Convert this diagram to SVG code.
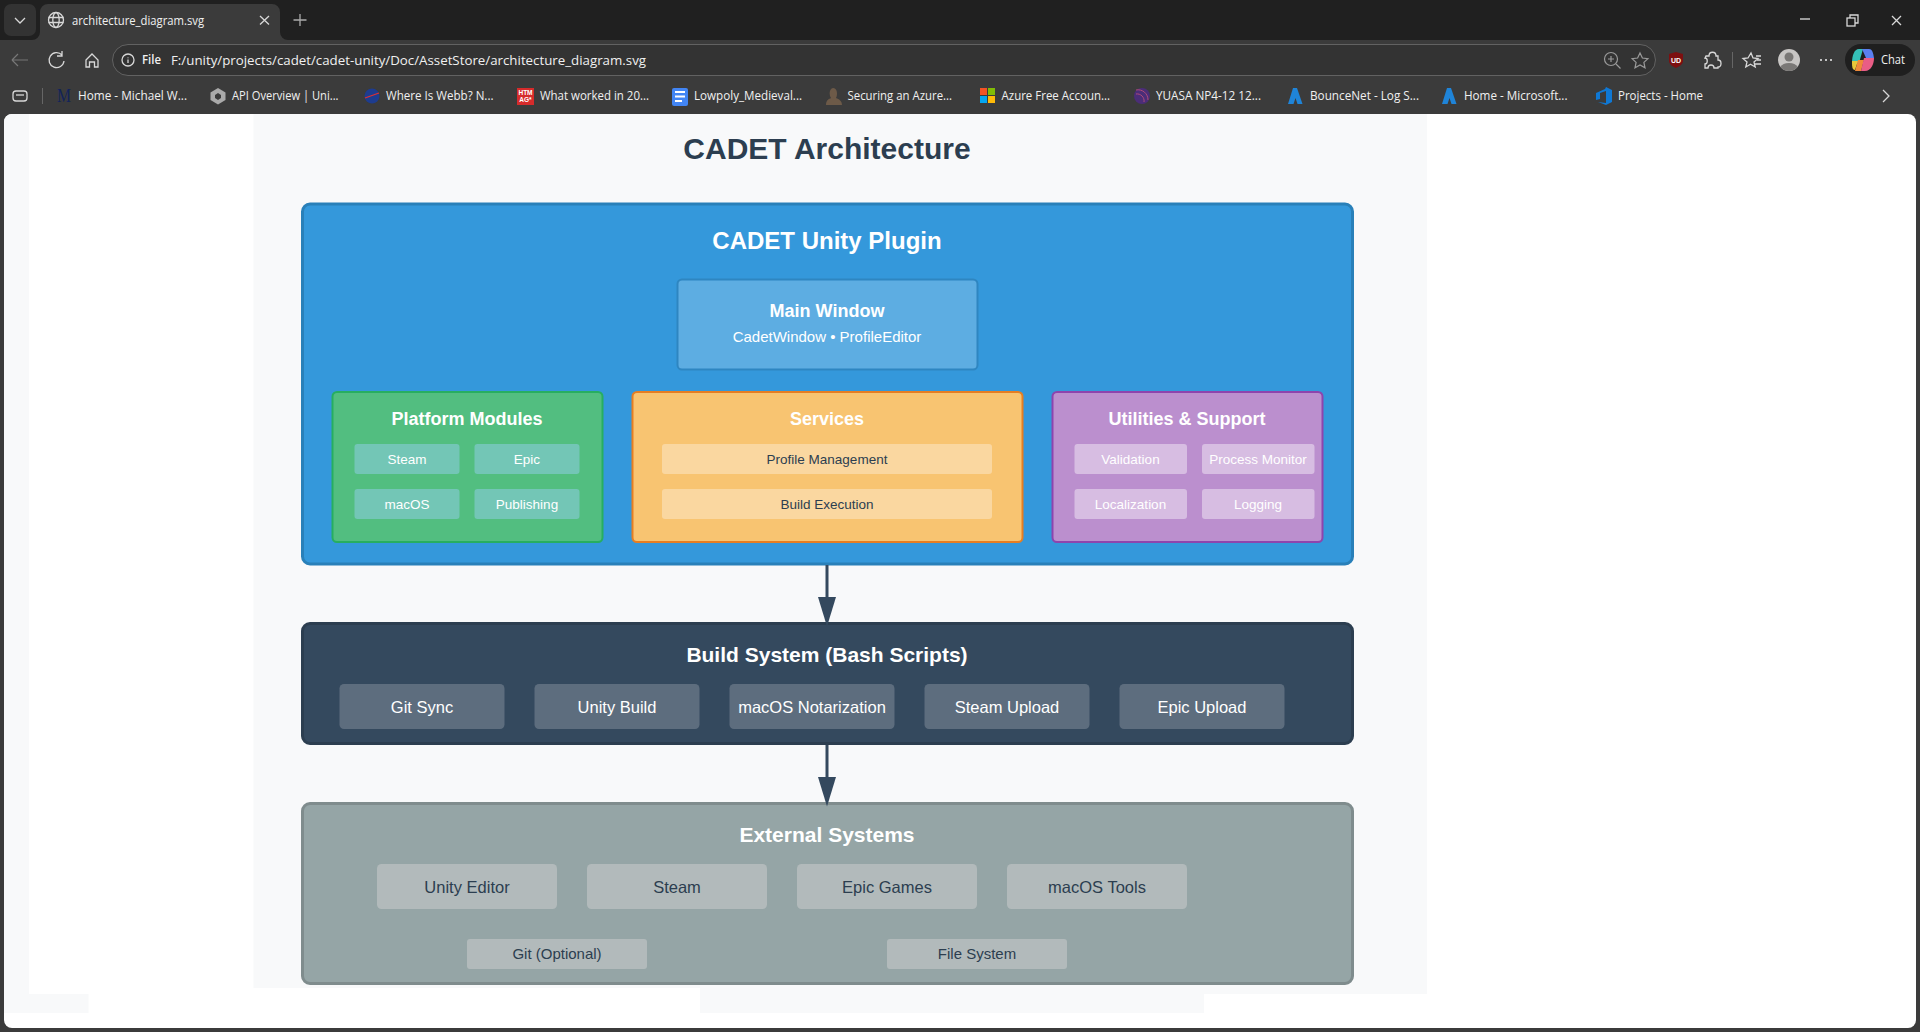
<svg xmlns="http://www.w3.org/2000/svg" width="1920" height="1032" viewBox="0 0 1920 1032">
<style>
text{font-family:"Liberation Sans",Arial,sans-serif}
.ui{font-family:"Open Sans","Noto Sans",sans-serif;font-size:12.5px;fill:#f0f0f0}
.c{text-anchor:middle}
.b{font-weight:700}
.w{fill:#fff}
.ink{fill:#2c3e50}
.t24{font-size:24px}.t21{font-size:21px}.t18{font-size:18px}
.t16{font-size:16.5px}.t15{font-size:15px}.t13{font-size:13.5px}
.ico{fill:none;stroke:#d8d8d8;stroke-width:1.3}
</style>
<defs>
<marker id="arrow" markerUnits="userSpaceOnUse" markerWidth="30" markerHeight="18" refX="0" refY="9" orient="auto">
<path d="M0 0L29.500 9L0 18Z" fill="#34495e"/>
</marker>
</defs>

<g id="browser-chrome">
<rect width="1920" height="1032" fill="#3b3b3b"/>
<rect width="1920" height="40" fill="#202020"/>
<rect x="4" y="4" width="32" height="32" rx="7" fill="#333"/>
<path d="M15 18l5 5 5-5" class="ico"/>
<path d="M32 40a8 8 0 0 0 8-8V12a8 8 0 0 1 8-8H272a8 8 0 0 1 8 8V32a8 8 0 0 0 8 8Z" fill="#3b3b3b"/>
<g class="ico"><circle cx="56" cy="20" r="7.5"/><ellipse cx="56" cy="20" rx="3.2" ry="7.5"/><path d="M48.5 17.500h15M48.500 22.500h15"/></g>
<text class="ui" x="72" y="25" textLength="132" lengthAdjust="spacingAndGlyphs">architecture_diagram.svg</text>
<path d="M260 16l9 8.500M269 16l-9 8.500" class="ico" stroke="#eee"/>
<path d="M300 14v12M293.500 20h13" fill="none" stroke="#aaa" stroke-width="1.300"/>
<path d="M1800 19h10" stroke="#eee" stroke-width="1.200"/>
<g class="ico"><rect x="1847" y="18" width="8" height="8"/><path d="M1850 18v-3h8v8h-3"/></g>
<path d="M1892 16l9 9M1901 16l-9 9" class="ico"/>

<path d="M12 60h16M12 60l6-6M12 60l6 6" fill="none" stroke="#777" stroke-width="1.200"/>
<path d="M62 55a7.500 7.500 0 1 0 2 6M62 51v5h-5" class="ico"/>
<path d="M86 60l6-6 6 6v7h-3.500v-5h-5v5H86Z" class="ico"/>
<rect x="112.500" y="44.500" width="1543" height="31" rx="15.500" fill="#333" stroke="#626262"/>
<circle cx="128" cy="60" r="6" class="ico"/><path d="M128 57.500v.8M128 59.500v3.500" class="ico"/>
<text class="ui" x="142" y="64" textLength="19" lengthAdjust="spacingAndGlyphs" style="font-weight:600">File</text>
<text class="ui" x="171" y="64.500" textLength="475" lengthAdjust="spacingAndGlyphs" style="font-size:13px">F:/unity/projects/cadet/cadet-unity/Doc/AssetStore/architecture_diagram.svg</text>
<g stroke="#9a9a9a" fill="none" stroke-width="1.200"><circle cx="1611" cy="59" r="6.500"/><path d="M1616 64l4.500 4.500M1611 56v6M1608 59h6"/><path d="M1640 53l2.400 5 5.500.6-4 3.800 1.100 5.400-5-2.800-5 2.800 1.100-5.400-4-3.800 5.500-.6Z"/></g>
<path d="M1669 54l7-2 7 2v7c0 3-3 5-7 7-4-2-7-4-7-7Z" fill="#7d0f10"/>
<text x="1676" y="63" class="c b" style="font-size:7px" fill="#fff">UD</text>
<path d="M1706 56h3c0-5 7-5 7 0h2v4c4 0 4 7 0 7v1h-4c0-4-6-4-6 0h-3v-4c3 0 3-6 0-6Z" class="ico"/>
<path d="M1732.500 52v16" stroke="#666"/>
<path d="M1751 53l2 5 5 .5-4 3.500 1.200 5-4.700-2.800-4.700 2.800 1.200-5-4-3.500 5-.5ZM1756 56h5M1757 60h4M1755 64h6" class="ico"/>
<circle cx="1789" cy="60" r="11" fill="#c8c6c4"/><circle cx="1789" cy="57" r="4.500" fill="#7a7876"/><path d="M1780.500 67a9 6 0 0 1 17 0a11 11 0 0 1-17 0Z" fill="#7a7876"/>
<path d="M1820 60h2M1825 60h2M1830 60h2" stroke="#eee" stroke-width="1.600"/>
<rect x="1845" y="44" width="70" height="32" rx="16" fill="#1f1f1f"/>
<path d="M1859 49h4l-4 14h-7c0-7 2-14 7-14Z" fill="#35c0b8"/>
<path d="M1862 49h7c3 0 4 3 5 9h-8Z" fill="#5a7ff0"/>
<path d="M1852 61h6l-3 9c-3 0-3-4-3-9Z" fill="#e8c83a"/>
<path d="M1858 60h6l-3 11h-6Z" fill="#ef8a3a"/>
<path d="M1864 58h10c0 6-3 13-9 13h-4Z" fill="#e95d86"/>
<text class="ui" x="1881" y="64" textLength="24" lengthAdjust="spacingAndGlyphs" style="font-size:13px">Chat</text>

<g class="ico"><rect x="13" y="91" width="14" height="10" rx="3"/><path d="M16 95h8"/></g>
<path d="M42.500 88v16" stroke="#666"/>
<text x="57" y="102" style="font-size:19px;font-family:'Liberation Serif',serif" fill="#12235a" textLength="14" lengthAdjust="spacingAndGlyphs">M</text>
<text class="ui" x="78" y="100" textLength="109" lengthAdjust="spacingAndGlyphs">Home - Michael W...</text>
<path d="M218 88l7.500 4.500v7.500l-7.500 4.500-7.500-4.500v-7.500Z" fill="#aaa"/><path d="M218 93l-3 2v3l3 2 3-2v-3Z" fill="#3b3b3b"/>
<text class="ui" x="232" y="100" textLength="106.500" lengthAdjust="spacingAndGlyphs">API Overview | Uni...</text>
<circle cx="372" cy="96" r="7.500" fill="#1d3c8f"/><path d="M365 98l14-5" stroke="#e03030" stroke-width="1.200"/>
<text class="ui" x="386" y="100" textLength="107.500" lengthAdjust="spacingAndGlyphs">Where Is Webb? N...</text>
<rect x="517" y="88" width="17" height="17" fill="#d62b2b"/>
<text x="525.500" y="95" class="c b" style="font-size:6.500px" fill="#fff">HTM</text><text x="525.500" y="102" class="c b" style="font-size:6.500px" fill="#fff">AG*</text>
<text class="ui" x="540" y="100" textLength="109" lengthAdjust="spacingAndGlyphs">What worked in 20...</text>
<rect x="672" y="88" width="16" height="18" rx="2" fill="#4285f4"/><path d="M675 92h10M675 96.500h10M675 101h7" stroke="#fff" stroke-width="1.800"/>
<text class="ui" x="694" y="100" textLength="108" lengthAdjust="spacingAndGlyphs">Lowpoly_Medieval...</text>
<path d="M826 105c0-5 3-6 5-7-2-3-2-9 2-10 4 0 5 6 3 10 3 1 6 3 6 7Z" fill="#6d5a48"/>
<text class="ui" x="847.500" y="100" textLength="104.500" lengthAdjust="spacingAndGlyphs">Securing an Azure...</text>
<rect x="980" y="88" width="7" height="7" fill="#f35325"/><rect x="988" y="88" width="7" height="7" fill="#81bc06"/><rect x="980" y="96" width="7" height="7" fill="#05a6f0"/><rect x="988" y="96" width="7" height="7" fill="#ffba08"/>
<text class="ui" x="1001.500" y="100" textLength="108.500" lengthAdjust="spacingAndGlyphs">Azure Free Accoun...</text>
<circle cx="1142" cy="96" r="8" fill="#4b2d78"/><path d="M1136 90a10 10 0 0 1 12 10M1136 94a7 7 0 0 1 8 8" fill="none" stroke="#b04a7a"/>
<text class="ui" x="1156" y="100" textLength="105" lengthAdjust="spacingAndGlyphs">YUASA NP4-12 12...</text>
<path d="M1288 104l5-16h4l5.500 16h-5l-2-6-2 6Z" fill="#1f84d8"/>
<text class="ui" x="1310" y="100" textLength="109" lengthAdjust="spacingAndGlyphs">BounceNet - Log S...</text>
<path d="M1442 104l5-16h4l5.500 16h-5l-2-6-2 6Z" fill="#1f84d8"/>
<text class="ui" x="1464" y="100" textLength="103.500" lengthAdjust="spacingAndGlyphs">Home - Microsoft...</text>
<path d="M1596 93l9-4 1-2 6 3v12l-6 3-8-3 8 1V91l-6 2v6l-4 1Z" fill="#0f78d4"/>
<text class="ui" x="1618" y="100" textLength="85" lengthAdjust="spacingAndGlyphs">Projects - Home</text>
<path d="M1883 90l6 6-6 6" class="ico"/>
</g>

<g id="page">
<rect x="4" y="114" width="1912" height="914" rx="8" fill="#fff"/>
<path d="M12 114H29V994H88.500V1013H4V122a8 8 0 0 1 8-8Z" fill="#f8f9fa"/>
<path d="M253.500 114H1427V994H1204V1013H700V988H253.500Z" fill="#f8f9fa"/>
</g>

<text id="title" x="827" y="159" class="c b ink" style="font-size:30px">CADET Architecture</text>

<g id="cadet-unity-plugin">
<rect x="302.500" y="204" width="1050" height="360" rx="7.500" fill="#3498db" stroke="#2980b9" stroke-width="3"/>
<text x="827" y="249" class="c b w t24">CADET Unity Plugin</text>
</g>
<g id="main-window">
<rect x="677.500" y="279.500" width="300" height="90" rx="4.500" fill="#5dade2" stroke="#2e86c1" stroke-width="2"/>
<text x="827" y="317" class="c b w t18">Main Window</text>
<text x="827" y="342" class="c w t15">CadetWindow • ProfileEditor</text>
</g>
<g id="platform-modules">
<rect x="332.500" y="392" width="270" height="150" rx="4.500" fill="#52be80" stroke="#27ae60" stroke-width="2"/>
<text x="467" y="425" class="c b w t18">Platform Modules</text>
<g fill="#73c6b6"><rect x="354.500" y="444" width="105" height="30" rx="3"/><rect x="474.500" y="444" width="105" height="30" rx="3"/><rect x="354.500" y="489" width="105" height="30" rx="3"/><rect x="474.500" y="489" width="105" height="30" rx="3"/></g>
<g class="c w t13"><text x="407" y="464">Steam</text><text x="527" y="464">Epic</text><text x="407" y="509">macOS</text><text x="527" y="509">Publishing</text></g>
</g>
<g id="services">
<rect x="632.500" y="392" width="390" height="150" rx="4.500" fill="#f8c471" stroke="#e67e22" stroke-width="2"/>
<text x="827" y="425" class="c b w t18">Services</text>
<g fill="#fad7a0"><rect x="662" y="444" width="330" height="30" rx="3"/><rect x="662" y="489" width="330" height="30" rx="3"/></g>
<g class="c ink t13"><text x="827" y="464">Profile Management</text><text x="827" y="509">Build Execution</text></g>
</g>
<g id="utilities-support">
<rect x="1052.500" y="392" width="270" height="150" rx="4.500" fill="#bb8fce" stroke="#8e44ad" stroke-width="2"/>
<text x="1187" y="425" class="c b w t18">Utilities &amp; Support</text>
<g fill="#d7bde2"><rect x="1074.500" y="444" width="112.500" height="30" rx="3"/><rect x="1202" y="444" width="112.500" height="30" rx="3"/><rect x="1074.500" y="489" width="112.500" height="30" rx="3"/><rect x="1202" y="489" width="112.500" height="30" rx="3"/></g>
<g class="c w t13"><text x="1130.500" y="464">Validation</text><text x="1258" y="464">Process Monitor</text><text x="1130.500" y="509">Localization</text><text x="1258" y="509">Logging</text></g>
</g>
<g id="build-system">
<rect x="302.500" y="623.500" width="1050" height="120" rx="7.500" fill="#34495e" stroke="#2c3e50" stroke-width="3"/>
<text x="827" y="662" class="c b w t21">Build System (Bash Scripts)</text>
<g fill="#5d6d7e"><rect x="339.500" y="684" width="165" height="45" rx="4.500"/><rect x="534.500" y="684" width="165" height="45" rx="4.500"/><rect x="729.500" y="684" width="165" height="45" rx="4.500"/><rect x="924.500" y="684" width="165" height="45" rx="4.500"/><rect x="1119.500" y="684" width="165" height="45" rx="4.500"/></g>
<g class="c w t16"><text x="422" y="713">Git Sync</text><text x="617" y="713">Unity Build</text><text x="812" y="713">macOS Notarization</text><text x="1007" y="713">Steam Upload</text><text x="1202" y="713">Epic Upload</text></g>
</g>
<g id="external-systems">
<rect x="302.500" y="803.500" width="1050" height="180" rx="7.500" fill="#95a5a6" stroke="#7f8c8d" stroke-width="3"/>
<text x="827" y="842" class="c b w t21">External Systems</text>
<g fill="#b2babb"><rect x="377" y="864" width="180" height="45" rx="4.500"/><rect x="587" y="864" width="180" height="45" rx="4.500"/><rect x="797" y="864" width="180" height="45" rx="4.500"/><rect x="1007" y="864" width="180" height="45" rx="4.500"/><rect x="467" y="939" width="180" height="30" rx="3"/><rect x="887" y="939" width="180" height="30" rx="3"/></g>
<g class="c ink t16"><text x="467" y="893">Unity Editor</text><text x="677" y="893">Steam</text><text x="887" y="893">Epic Games</text><text x="1097" y="893">macOS Tools</text></g>
<g class="c ink t15"><text x="557" y="959">Git (Optional)</text><text x="977" y="959">File System</text></g>
</g>
<g id="connectors" fill="none" stroke="#34495e" stroke-width="3">
<path d="M827 565V597" marker-end="url(#arrow)"/>
<path d="M827 745V777" marker-end="url(#arrow)"/>
</g>
</svg>
